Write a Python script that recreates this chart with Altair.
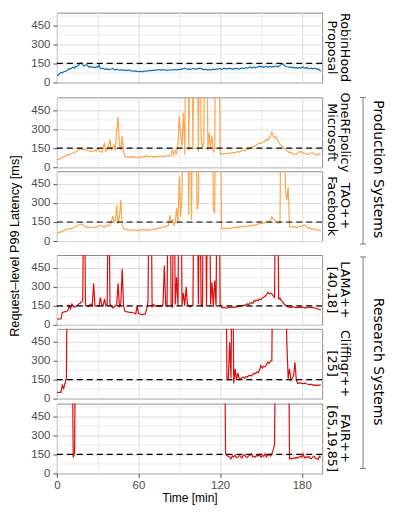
import altair as alt
import pandas as pd

OFF = 1500  # value above the plotted range (line leaves the panel)

minutes = list(range(195))

robinhood = [
    53, 58, 70, 79, 76, 84, 88, 90, 98, 110,
    104, 115, 122, 112, 125, 130, 137, 150, 155, 138,
    130, 135, 140, 128, 118, 126, 120, 122, 115, 125,
    120, 140, 110, 108, 112, 105, 102, 108, 100, 104,
    106, 110, 102, 98, 104, 100, 97, 101, 95, 99,
    96, 97, 94, 98, 93, 90, 92, 88, 91, 87,
    85, 85, 88, 84, 89, 90, 87, 92, 95, 91,
    97, 94, 99, 96, 100, 102, 98, 101, 97, 100,
    99, 96, 97, 100, 98, 102, 99, 102, 97, 104,
    100, 106, 103, 108, 113, 106, 104, 108, 102, 106,
    110, 108, 104, 111, 107, 112, 110, 105, 99, 104,
    101, 98, 103, 97, 102, 105, 100, 106, 103, 108,
    110, 104, 108, 112, 106, 110, 107, 113, 109, 104,
    110, 106, 112, 108, 104, 110, 114, 108, 112, 116,
    112, 118, 120, 114, 118, 122, 116, 120, 124, 130,
    122, 126, 120, 124, 128, 118, 123, 127, 121, 126,
    124, 130, 122, 127, 136, 140, 147, 135, 128, 124,
    122, 118, 124, 115, 120, 113, 116, 110, 118, 114,
    119, 122, 115, 112, 118, 108, 110, 114, 106, 112,
    113, 104, 108, 98, 88,
]

onerf = [
    60, 62, 66, 73, 78, 84, 88, 92, 100, 97,
    104, 108, 112, 118, 122, 130, 138, 145, 140, 142,
    137, 140, 132, 128, 126, 130, 124, 128, 134, 126,
    145, 130, 122, 118, 150, 192, 126, 140, 170, 218,
    137, 150, 176, 130, 297, 397, 176, 137, 245, 120,
    87, 79, 82, 76, 84, 80, 87, 78, 83, 79,
    75, 82, 78, 85, 87, 80, 92, 86, 82, 88,
    84, 80, 86, 82, 87, 84, 90, 85, 82, 88,
    86, 90, 92, 88, 95, 139, 98, 130, 110, 180,
    403, 245, 166, 430, 98, OFF, OFF, 130, OFF, OFF,
    140, OFF, OFF, OFF, 120, OFF, 250, 150, 200, OFF,
    OFF, 130, 270, 150, 250, 120, 140, OFF, OFF, OFF,
    105, 100, 108, 104, 110, 108, 112, 106, 114, 110,
    118, 114, 120, 124, 118, 126, 130, 134, 128, 136,
    140, 146, 150, 155, 166, 160, 172, 178, 185, 192,
    186, 195, 200, 208, 218, 212, 230, 245, 276, 250,
    232, 240, 215, 200, 179, 170, 160, 150, 139, 130,
    124, 113, 118, 108, 105, 102, 100, 112, 126, 118,
    122, 113, 110, 105, 100, 104, 108, 112, 113, 106,
    102, 100, 98, 105, 100,
]

tao = [
    60, 63, 68, 72, 78, 83, 87, 90, 95, 98,
    100, 96, 104, 110, 115, 120, 126, 130, 134, 128,
    118, 114, 108, 112, 106, 105, 110, 104, 108, 112,
    113, 118, 124, 116, 110, 108, 120, 126, 118, 130,
    152, 197, 152, 160, 284, 134, 190, 324, 126, 100,
    96, 92, 90, 87, 90, 85, 88, 87, 84, 86,
    82, 85, 88, 90, 92, 88, 85, 90, 86, 87,
    90, 94, 92, 98, 100, 104, 102, 106, 110, 113,
    110, 118, 126, 205, 150, 166, 126, 152, 258, 139,
    508, 187, 363, OFF, OFF, OFF, OFF, 206, OFF, 166,
    OFF, OFF, OFF, 245, 310, OFF, OFF, OFF, OFF, OFF,
    OFF, OFF, OFF, OFF, OFF, 245, 218, OFF, OFF, OFF,
    OFF, 100, 96, 102, 98, 100, 96, 104, 100, 106,
    108, 104, 110, 106, 113, 110, 116, 112, 118, 114,
    118, 122, 116, 124, 126, 122, 130, 128, 134, 139,
    136, 142, 140, 145, 148, 150, 155, 165, 192, 175,
    166, 150, 145, 139, 145, OFF, OFF, OFF, 403, 324,
    425, 113, 110, 113, 108, 112, 105, 110, 113, 118,
    115, 122, 126, 118, 110, 100, 104, 96, 92, 98,
    90, 87, 92, 85, 80,
]

lama = [
    46, 46, 46, 46, 99, 100, 104, 107, 110, 151,
    125, 164, 150, 138, 145, 152, 164, 170, 180, 191,
    OFF, 151, 148, 143, 155, 164, 150, 328, 151, 145,
    151, 148, 217, 156, 150, 204, 151, 160, OFF, 164,
    150, 133, 140, 150, 164, 328, 138, 164, 441, 151,
    107, 104, 102, 99, 98, 99, 95, 92, 86, 150,
    90, 85, 82, 80, 84, 86, 125, 178, OFF, OFF,
    138, 160, 150, 151, 145, 143, 150, 148, 160, 468,
    150, 145, OFF, OFF, 151, 140, OFF, 160, 375, 150,
    OFF, OFF, 155, 250, 150, 300, 160, 150, 140, 150,
    155, OFF, OFF, OFF, 160, OFF, 155, 145, OFF, OFF,
    150, OFF, OFF, 160, 336, 140, 349, 150, OFF, OFF,
    160, 138, 134, 136, 132, 134, 138, 136, 140, 138,
    138, 142, 140, 146, 144, 151, 148, 155, 152, 160,
    164, 160, 170, 175, 168, 191, 185, 195, 190, 204,
    198, 210, 217, 225, 235, 257, 245, 250, 244, 230,
    217, OFF, OFF, 204, 210, 191, 180, 164, 155, 150,
    138, 142, 136, 143, 140, 136, 138, 134, 140, 138,
    136, 140, 133, 134, 138, 135, 140, 136, 138, 134,
    130, 128, 125, 120, 117,
]

cliffhgr = (
    [49, 49, 49, 49, 106, 80, 119, 163]
    + [OFF] * 117
    + [160, 150, 443, 160, OFF,
       119, 235, 150, 200, 160, 158, 165, 171, 160, 175,
       170, 180, 184, 178, 190, 200, 195, 210, 205, 225,
       262, 240, 255, 249, 265, 287, 280, 295, 300]
    + [OFF] * 10
    + [456,
       158, 235, 145, 160, 184, 287, 145, 119, 126, 122,
       120, 118, 122, 119, 115, 112, 110, 114, 106, 108,
       104, 106, 102, 108, 106]
)

fair = (
    [OFF] * 12
    + [125, 160]
    + [OFF] * 110
    + [154, 140, 135, 128, 115, 138,
       130, 143, 125, 127, 140, 135, 122, 142, 147, 130,
       127, 138, 145, 154, 130, 135, 128, 143, 138, 150,
       127, 140, 135, 154, 130, 143, 150, 138, 154, 185,
       231]
    + [OFF] * 10
    + [115, 120, 115, 122, 118, 127, 120, 130, 135,
       128, 154, 123, 130, 125, 135, 122, 115, 128, 135,
       120, 115, 108, 135, 125]
)

panel_series = [robinhood, onerf, tao, lama, cliffhgr, fair]
panel_labels = [
    ("RobinHood", "Proposal"),
    ("OneRFpolicy", "Microsoft"),
    ("TAO++", "Facebook"),
    ("LAMA++", "[40,18]"),
    ("Cliffhgr++", "[25]"),
    ("FAIR++", "[65,19,85]"),
]
panel_colors = ["#1170b9", "#fda650", "#fda650", "#df0d0d", "#df0d0d", "#df0d0d"]
group_labels = ["Production Systems", "Research Systems"]
threshold = [150]
x_ticks = [0, 30, 60, 90, 120, 150, 180]
y_ticks = [0, 75, 150, 225, 300, 375, 450, 525]
x_domain = [0, 195]
y_domain = [0, 550]

W, H = 266, 70
AXFONT = "Liberation Sans"
LABFONT = "DejaVu Sans"
GRID_MAJOR = "#dcdcdc"
GRID_MINOR = "#ededed"


def cond(test, a, b):
    return {"condition": {"test": test, "value": a}, "value": b}


def x_axis(bottom):
    common = dict(
        values=x_ticks,
        grid=True,
        gridColor=cond("datum.value % 60 === 0", GRID_MAJOR, GRID_MINOR),
        gridWidth=1,
        domain=False,
    )
    if bottom:
        return alt.Axis(
            labelExpr="datum.value % 60 === 0 ? datum.label : ''",
            tickOpacity=cond("datum.value % 60 === 0", 1, 0),
            tickSize=4,
            tickColor="#555555",
            labelColor="#4d4d4d",
            labelFont=AXFONT,
            labelFontSize=11.5,
            labelPadding=2,
            labelFlush=False,
            labelOverlap=False,
            title="Time [min]",
            titleFont=AXFONT,
            titleFontSize=12,
            titleFontWeight="normal",
            titleColor="black",
            titlePadding=2,
            **common,
        )
    return alt.Axis(labels=False, ticks=False, title=None, **common)


def y_axis():
    return alt.Axis(
        values=y_ticks,
        labelExpr="datum.value % 150 === 0 ? datum.label : ''",
        tickOpacity=cond("datum.value % 150 === 0", 1, 0),
        tickSize=4,
        tickColor="#555555",
        labelColor="#4d4d4d",
        labelFont=AXFONT,
        labelFontSize=11.5,
        labelPadding=3,
        labelOverlap=False,
        grid=True,
        gridColor=cond("datum.value % 150 === 0", GRID_MAJOR, GRID_MINOR),
        gridWidth=1,
        domain=False,
        title=None,
    )


def y_enc():
    return alt.Y("v:Q", scale=alt.Scale(domain=y_domain, nice=False), axis=y_axis())


def text_layer(txt, x, y, size, angle=90, font=LABFONT, color="black"):
    return alt.Chart(pd.DataFrame({"lab": [txt]})).mark_text(
        angle=angle, font=font, fontSize=size, color=color,
        align="center", baseline="middle",
    ).encode(x=alt.value(x), y=alt.value(y), text="lab:N")


def rule_layer(x, x2, y, y2):
    return alt.Chart(pd.DataFrame({"lab": [0]})).mark_rule(
        color="#7a7a7a", strokeWidth=1
    ).encode(x=alt.value(x), x2=alt.value(x2), y=alt.value(y), y2=alt.value(y2))


def panel(i, bottom=False, extras=()):
    df = pd.DataFrame({"t": minutes, "v": panel_series[i]})
    x = alt.X("t:Q", scale=alt.Scale(domain=x_domain, nice=False, zero=False), axis=x_axis(bottom))
    line = alt.Chart(df).mark_line(
        color=panel_colors[i], strokeWidth=1.2, clip=True
    ).encode(x=x, y=y_enc())
    ref = alt.Chart(pd.DataFrame({"v": threshold})).mark_rule(
        color="black", strokeDash=[6, 4], strokeWidth=1.2
    ).encode(y=y_enc())
    l1, l2 = panel_labels[i]
    lab1 = text_layer(l1, W + 23, H / 2, 12.8)
    lab2 = text_layer(l2, W + 10, H / 2, 12.8)
    return alt.layer(line, ref, lab1, lab2, *extras).properties(width=W, height=H)


def spacer(h):
    return alt.Chart(pd.DataFrame({"a": [0]})).mark_point(opacity=0).encode(
        x=alt.value(0), y=alt.value(0)
    ).properties(width=W, height=h, view=alt.ViewBackground(strokeOpacity=0))


prod_extras = [
    text_layer(group_labels[0], W + 56, 72, 14),
    rule_layer(W + 41, W + 41, 0, 147),
    rule_layer(W + 38, W + 44, 0, 0),
    rule_layer(W + 38, W + 44, 147, 147),
]
res_extras = [
    text_layer(group_labels[1], W + 56, 107, 14),
    rule_layer(W + 41, W + 41, 2, 214),
    rule_layer(W + 38, W + 44, 2, 2),
    rule_layer(W + 38, W + 44, 214, 214),
    text_layer("Request\u2013level P99 Latency [ms]", -42, -9, 12.7, angle=270, font=AXFONT),
]

chart = alt.vconcat(
    panel(0),
    spacer(14.6),
    panel(1, extras=prod_extras),
    spacer(4),
    panel(2),
    spacer(13.4),
    panel(3, extras=res_extras),
    spacer(4),
    panel(4),
    spacer(4.3),
    panel(5, bottom=True),
    spacing=0,
    bounds="flush",
).properties(
    padding={"left": 0, "top": 0, "right": 0, "bottom": 0}
).configure_view(
    stroke="#8c8c8c", strokeWidth=1
)

chart.save("out.html", embed_options={"renderer": "svg", "actions": False})
